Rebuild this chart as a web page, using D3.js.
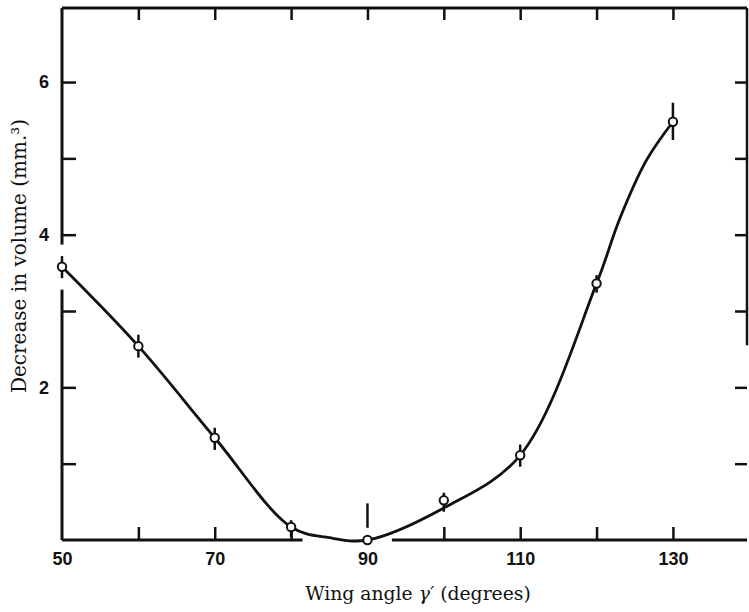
<!DOCTYPE html>
<html>
<head>
<meta charset="utf-8">
<script src="https://cdn.jsdelivr.net/npm/d3@7"></script>
<style>
  body { margin: 0; background: #fff; }
  svg { display: block; }
  .tick-label { font-family: "Liberation Sans", Arial, sans-serif; font-weight: bold; font-size: 18px; fill: #111; }
  .title { font-family: "DejaVu Serif", serif; font-size: 18.8px; fill: #111; }
</style>
</head>
<body>
<svg width="749" height="612"></svg>
<script>
// Wing angle (degrees) of each measurement
const angles = [50, 60, 70, 80, 90, 100, 110, 120, 130]
// Measured decrease in volume (mm.3)
const volumes = [3.58, 2.54, 1.34, 0.17, 0.0, 0.52, 1.11, 3.36, 5.48]
// Error bar ends
const errLow = [3.43, 2.39, 1.18, 0.04, 0.16, 0.37, 0.96, 3.24, 5.24]
const errHigh = [3.72, 2.69, 1.47, 0.26, 0.48, 0.62, 1.25, 3.47, 5.73]
// Smooth curve drawn through the points
const curveAngles = [50, 60, 70, 80, 85, 90, 100, 110, 120, 123, 126.5, 130]
const curveValues = [3.58, 2.54, 1.34, 0.17, 0.03, 0.0, 0.42, 1.11, 3.36, 4.2, 4.97, 5.48]

// Tick values
const xTicks = [60, 70, 80, 100, 110, 120, 130]
const xTopTicks = [60, 70, 80, 90, 100, 110, 120, 130]
const xLabels = [50, 70, 90, 110, 130]
const yTicks = [1, 2, 3, 4, 5, 6]
const yLabels = [2, 4, 6]

// Breaks in the printed frame lines
const bottomSegments = [[50, 81.5], [93.2, 139.7]]
const leftSegments = [[0, 3.28], [3.87, 6.97]]
const rightSegments = [[2.55, 6.97]]

const svg = d3.select('svg')

const x = d3.scaleLinear().domain([50, 139.7]).range([62, 747])
const y = d3.scaleLinear().domain([0, 6.97]).range([540, 8])

const ink = '#111'

// Frame lines
svg.append('line')
  .attr('x1', x(50)).attr('x2', x(139.7))
  .attr('y1', y(6.97)).attr('y2', y(6.97))
  .attr('stroke', ink).attr('stroke-width', 3)

svg.selectAll('.bottom-seg')
  .data(bottomSegments)
  .enter()
  .append('line')
  .attr('x1', d => x(d[0])).attr('x2', d => x(d[1]))
  .attr('y1', y(0)).attr('y2', y(0))
  .attr('stroke', ink).attr('stroke-width', 3)

svg.selectAll('.left-seg')
  .data(leftSegments)
  .enter()
  .append('line')
  .attr('x1', x(50)).attr('x2', x(50))
  .attr('y1', d => y(d[0])).attr('y2', d => y(d[1]))
  .attr('stroke', ink).attr('stroke-width', 3)

svg.selectAll('.right-seg')
  .data(rightSegments)
  .enter()
  .append('line')
  .attr('x1', x(139.7)).attr('x2', x(139.7))
  .attr('y1', d => y(d[0])).attr('y2', d => y(d[1]))
  .attr('stroke', ink).attr('stroke-width', 2.5)

// Inward ticks on all four sides
function tickStyle(g) {
  g.select('.domain').remove()
  g.selectAll('.tick line').attr('stroke', ink).attr('stroke-width', 2.5)
}

svg.append('g')
  .attr('transform', `translate(0, ${y(0)})`)
  .call(d3.axisBottom(x).tickValues(xTicks).tickSize(-13).tickFormat(''))
  .call(tickStyle)

svg.append('g')
  .attr('transform', `translate(0, ${y(6.97)})`)
  .call(d3.axisTop(x).tickValues(xTopTicks).tickSize(-12).tickFormat(''))
  .call(tickStyle)

svg.append('g')
  .attr('transform', `translate(${x(50)}, 0)`)
  .call(d3.axisLeft(y).tickValues(yTicks).tickSize(-14).tickFormat(''))
  .call(tickStyle)

svg.append('g')
  .attr('transform', `translate(${x(139.7)}, 0)`)
  .call(d3.axisRight(y).tickValues(yTicks).tickSize(-12).tickFormat(''))
  .call(tickStyle)

// Tick labels
const xLab = svg.append('g')
  .attr('transform', `translate(0, ${y(0)})`)
  .call(d3.axisBottom(x).tickValues(xLabels).tickSize(0).tickPadding(12).tickFormat(d3.format('d')))
xLab.select('.domain').remove()
xLab.selectAll('text').attr('class', 'tick-label')

const yLab = svg.append('g')
  .attr('transform', `translate(${x(50)}, 0)`)
  .call(d3.axisLeft(y).tickValues(yLabels).tickSize(0).tickPadding(13).tickFormat(d3.format('d')))
yLab.select('.domain').remove()
yLab.selectAll('text').attr('class', 'tick-label')

// Axis titles
const xTitle = svg.append('text')
  .attr('class', 'title')
  .attr('x', 418)
  .attr('y', 600)
  .attr('text-anchor', 'middle')
xTitle.append('tspan').text('Wing angle ')
xTitle.append('tspan').attr('font-style', 'italic').text('γ′')
xTitle.append('tspan').text(' (degrees)')

svg.append('text')
  .attr('class', 'title')
  .style('font-size', '20px')
  .attr('transform', 'translate(26, 256) rotate(-90)')
  .attr('text-anchor', 'middle')
  .text('Decrease in volume (mm.³)')

// Smooth curve
const line = d3.line()
  .x((d, i) => x(curveAngles[i]))
  .y(d => y(d))
  .curve(d3.curveCatmullRom.alpha(0.5))

svg.append('path')
  .datum(curveValues)
  .attr('d', line)
  .attr('fill', 'none')
  .attr('stroke', ink)
  .attr('stroke-width', 2.8)

// Error bars
svg.selectAll('.err')
  .data(angles)
  .enter()
  .append('line')
  .attr('x1', d => x(d)).attr('x2', d => x(d))
  .attr('y1', (d, i) => y(errLow[i]))
  .attr('y2', (d, i) => y(errHigh[i]))
  .attr('stroke', ink)
  .attr('stroke-width', 2.5)

// Open circles for the measurements
svg.selectAll('.pt')
  .data(angles)
  .enter()
  .append('circle')
  .attr('cx', d => x(d))
  .attr('cy', (d, i) => y(volumes[i]))
  .attr('r', 4.2)
  .attr('fill', '#fff')
  .attr('stroke', ink)
  .attr('stroke-width', 2)
</script>
</body>
</html>
